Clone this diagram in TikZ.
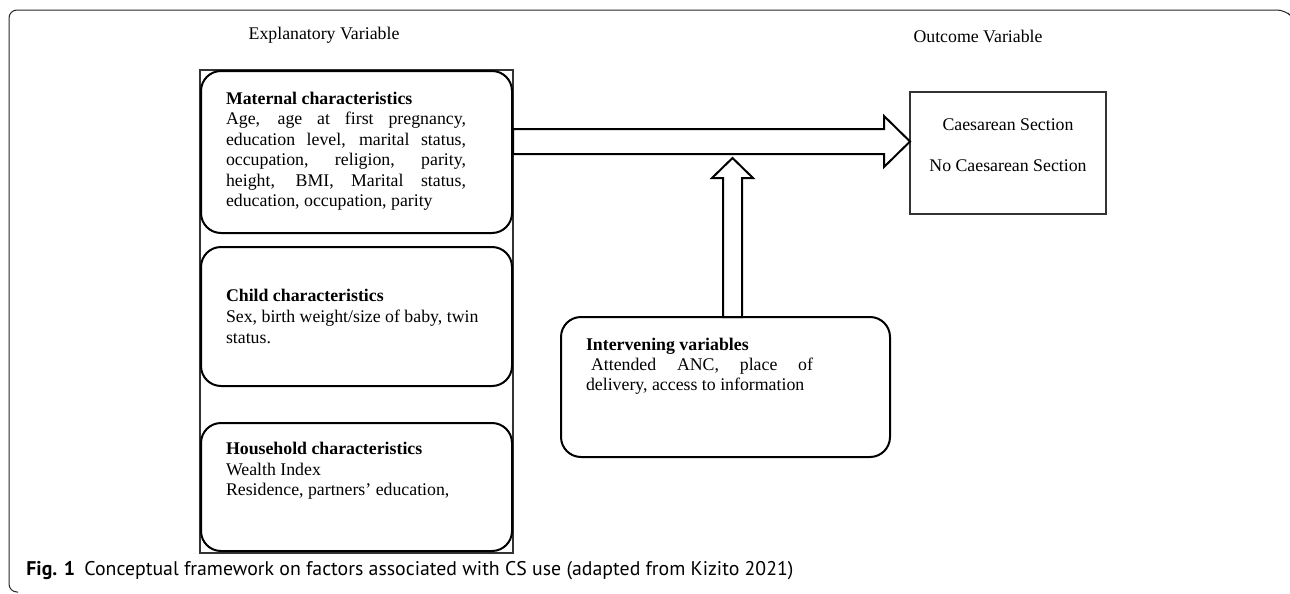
\documentclass[tikz,border=0pt]{standalone}
\usepackage{fontspec}
\setmainfont{Liberation Serif}
\newfontfamily\capfont{PT Sans}
\usepackage{graphicx}
\usetikzlibrary{calc}
\begin{document}
\begin{tikzpicture}[x=0.5pt,y=-0.5pt,
  txt/.style={anchor=base west, inner sep=0pt, outer sep=0pt, font=\fontsize{8.9}{10.25}\selectfont},
  ctxt/.style={anchor=base, inner sep=0pt, outer sep=0pt, font=\fontsize{8.9}{10.25}\selectfont},
  contbox/.style={draw=black!80, line width=1pt, inner sep=0pt, outer sep=0pt},
  rbox/.style={draw=black, line width=1pt, rounded corners=10pt, fill=white, inner sep=0pt, outer sep=0pt},
  sbox/.style={draw=black!80, line width=1pt, inner sep=0pt, outer sep=0pt},
  blockarrow/.style={draw=black, line width=1pt, fill=white, line join=miter},
  frameline/.style={draw=black!85, line width=0.5pt, rounded corners=4pt}
]
\useasboundingbox (0,0) rectangle (1290,594);
% outer frame
\draw[frameline] (1288,13) -- (1285,10) -- (9,10) -- (9,592) -- (18,592);
% headings
\node[ctxt] (expl) at (324,39.5) {Explanatory Variable};
\node[ctxt] (outl) at (978,42.5) {Outcome Variable};
% container and boxes
\node[contbox, minimum width=156.5pt, minimum height=241.5pt] (cont) at (356.5,311.5) {};
\node[rbox, minimum width=155.5pt, minimum height=81pt] (mat) at (356.5,152) {};
\node[rbox, minimum width=155.5pt, minimum height=69.5pt] (chi) at (356.5,316.5) {};
\node[rbox, minimum width=155.5pt, minimum height=64pt] (hou) at (356.5,487) {};
\node[rbox, minimum width=164.5pt, minimum height=70pt] (int) at (725.5,387) {};
\node[sbox, minimum width=98pt, minimum height=61pt] (out) at (1008,153) {};
% horizontal block arrow
\coordinate (hs) at (513,141.5);
\coordinate (he) at (out.west |- hs);
\draw[blockarrow] ($(hs)+(0,-12.5)$) -- ($(he)+(-26,-12.5)$) -- ($(he)+(-26,-25.5)$) -- (he)
  -- ($(he)+(-26,25.5)$) -- ($(he)+(-26,12.5)$) -- ($(hs)+(0,12.5)$) -- cycle;
% vertical block arrow
\coordinate (vs) at ($(int.north)+(7,0)$);
\coordinate (ve) at ($(vs)+(0,-159)$);
\draw[blockarrow] ($(vs)+(-9.5,0)$) -- ($(ve)+(-9.5,20)$) -- ($(ve)+(-20.5,20)$) -- (ve)
  -- ($(ve)+(20.5,20)$) -- ($(ve)+(9.5,20)$) -- ($(vs)+(9.5,0)$) -- cycle;
% maternal text
\node[txt] (m0) at (226,104) {\textbf{Maternal characteristics}};
\node[txt] (m1) at (226,124.5) {\makebox[120pt][s]{Age, age at first pregnancy,}};
\node[txt] (m2) at (226,145) {\makebox[120pt][s]{education level, marital status,}};
\node[txt] (m3) at (226,165.5) {\makebox[120pt][s]{occupation, religion, parity,}};
\node[txt] (m4) at (226,186) {\makebox[120pt][s]{height, BMI, Marital status,}};
\node[txt] (m5) at (226,206.5) {education, occupation, parity};
% child text
\node[txt] (c0) at (226,301.5) {\textbf{Child characteristics}};
\node[txt] (c1) at (226,322.5) {Sex, birth weight/size of baby, twin};
\node[txt] (c2) at (226,343.5) {status.};
% household text
\node[txt] (h0) at (226,454) {\textbf{Household characteristics}};
\node[txt] (h1) at (226,475) {Wealth Index};
\node[txt] (h2) at (226,495.5) {Residence, partners’ education,};
% intervening text
\node[txt] (i0) at (586,350) {\textbf{Intervening variables}};
\node[txt] (i1) at (586,370.5) {\makebox[113.5pt][s]{\hspace*{2.5pt}Attended ANC, place of}};
\node[txt] (i2) at (586,390.5) {delivery, access to information};
% outcome text
\node[ctxt] (o1) at (1008,130.5) {Caesarean Section};
\node[ctxt] (o2) at (1008,171.5) {No Caesarean Section};
% caption
\node[anchor=base west, inner sep=0pt] (cap) at (26,575) {\resizebox{383.5pt}{!}{\capfont\fontsize{9.6}{11}\selectfont\textbf{Fig. 1}\hspace{4.5pt}Conceptual framework on factors associated with CS use (adapted from Kizito 2021)}};
\end{tikzpicture}
\end{document}
